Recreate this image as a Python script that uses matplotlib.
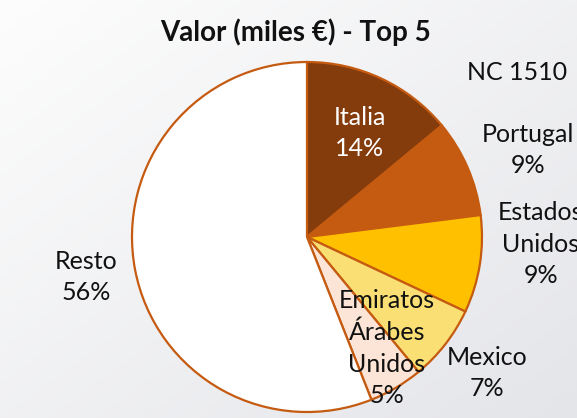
import matplotlib
matplotlib.use("Agg")
import matplotlib.pyplot as plt
import numpy as np

# data
countries = ["Italia", "Portugal", "Estados\nUnidos", "Mexico", "Emiratos\nÁrabes\nUnidos", "Resto"]
shares = [14, 9, 9, 7, 5, 56]
colors = ["#843C0C", "#C55A11", "#FFC000", "#FAE074", "#FCE4D6", "#FFFFFF"]

W, H = 577, 418
fig = plt.figure(figsize=(W / 100, H / 100), dpi=100)
ax = fig.add_axes([0, 0, 1, 1])

# light diagonal background gradient
yy, xx = np.mgrid[0:1:200j, 0:1:200j]
g = (xx + (1 - yy)) / 2
bg = np.empty(g.shape + (3,))
top = np.array([253, 253, 253]) / 255
bot = np.array([228, 229, 233]) / 255
for i in range(3):
    bg[..., i] = top[i] + (bot[i] - top[i]) * g
ax.imshow(bg, extent=[0, W, 0, H], origin="lower", zorder=0, aspect="auto")

wedges, _ = ax.pie(shares, colors=colors, startangle=90, counterclock=False,
                   center=(307, 181), radius=175,
                   wedgeprops=dict(edgecolor="#C55A11", linewidth=1.6))
for w in wedges:
    w.set_zorder(2)

label_pos = [(360, 285), (528, 268), (541, 174), (487, 45), (387, 70), (86, 141)]
for name, v, (x, y), i in zip(countries, shares, label_pos, range(len(shares))):
    ax.text(x, y, f"{name}\n{v}%", ha="center", va="center", fontsize=18,
            family="Lato", color="white" if i == 0 else "#111111",
            linespacing=1.45, zorder=3)

ax.text(296, 386, "Valor (miles €) - Top 5", ha="center", va="center",
        fontsize=20, fontweight="bold", family="Lato",
        color="#111111", zorder=3)
ax.text(517, 346, "NC 1510", ha="center", va="center", fontsize=18,
        family="Lato", color="#111111", zorder=3)

ax.set_xlim(0, W)
ax.set_ylim(0, H)
ax.set_aspect("auto")
ax.axis("off")

fig.savefig("out.png", dpi=100)
